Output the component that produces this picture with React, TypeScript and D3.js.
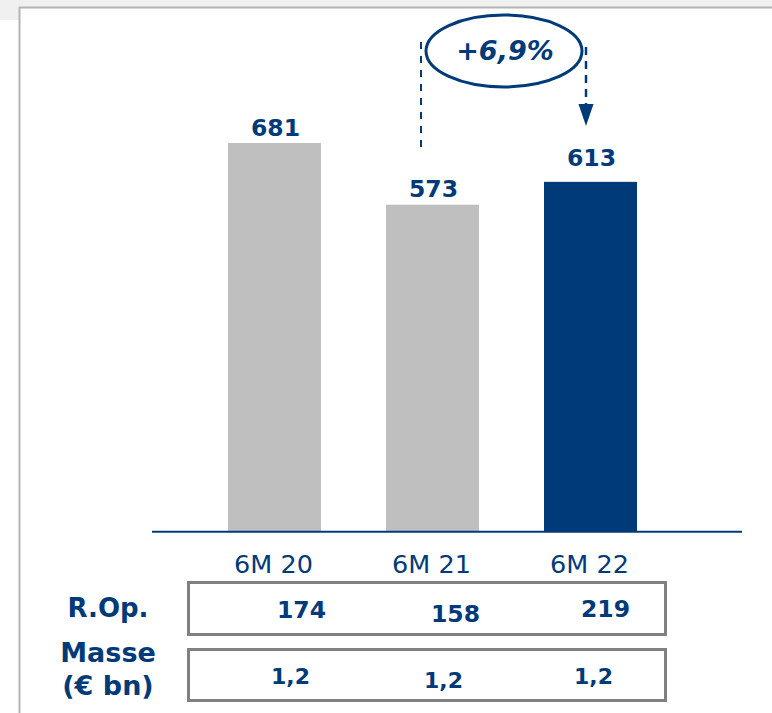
import React from "react";
import * as d3 from "d3";

const categories = ["6M 20", "6M 21", "6M 22"];
const values = [681, 573, 613];
const ropValues = ["174", "158", "219"];
const masseValues = ["1,2", "1,2", "1,2"];
const growthLabel = "+6,9%";
const rowLabels = ["R.Op.", "Masse", "(€ bn)"];

const W = 772;
const H = 713;
const NAVY = "#003a78";
const GREY_BAR = "#bfbfbf";
const FONT = "Verdana, 'DejaVu Sans', sans-serif";

export default function App() {
  const x = d3.scalePoint<string>().domain(categories).range([274.5, 590.5]);
  const y = d3.scaleLinear().domain([0, 681]).range([532, 143]);
  const barW = 93;
  const labelGap = [7, 8, 16];
  const ropDy = [618, 622, 617];
  const masseDy = [684, 688, 684];
  const ropDx = [27, 23, 15];
  const masseDx = [16, 11, 3];

  return (
    <svg
      width={W}
      height={H}
      style={{ position: "absolute", left: 0, top: 0, background: "#fff" }}
    >
      {/* frame */}
      <rect x={0} y={0} width={W} height={7} fill="#f0f0f0" />
      <rect x={0} y={0} width={19} height={20} fill="#f0f0f0" />
      <line x1={19} y1={7.5} x2={W} y2={7.5} stroke="#b4b4b4" strokeWidth={2} />
      <line x1={19.5} y1={7} x2={19.5} y2={H} stroke="#b4b4b4" strokeWidth={2} />

      {/* bars */}
      {values.map((v, i) => (
        <rect
          key={"b" + i}
          x={x(categories[i])! - barW / 2}
          y={y(v)}
          width={barW}
          height={y(0) - y(v)}
          fill={i === values.length - 1 ? NAVY : GREY_BAR}
        />
      ))}
      {/* axis */}
      <line x1={152} y1={531.7} x2={742} y2={531.7} stroke={NAVY} strokeWidth={2} />

      {/* value labels */}
      {values.map((v, i) => (
        <text
          key={"v" + i}
          x={x(categories[i])! + 1}
          y={y(v) - labelGap[i]}
          textAnchor="middle"
          fontFamily={FONT}
          fontWeight="bold"
          fontSize={23.5}
          fill={NAVY}
        >
          {v}
        </text>
      ))}

      {/* category labels */}
      {categories.map((c, i) => (
        <text
          key={"c" + i}
          x={x(c)! - 1}
          y={573}
          textAnchor="middle"
          fontFamily={FONT}
          fontSize={25.5}
          fill={NAVY}
        >
          {c}
        </text>
      ))}

      {/* table boxes */}
      <rect x={188.5} y={582.5} width={477} height={52} fill="none" stroke="#808080" strokeWidth={3} />
      <rect x={188.5} y={649.5} width={477} height={51} fill="none" stroke="#808080" strokeWidth={3} />

      {ropValues.map((t, i) => (
        <text
          key={"r" + i}
          x={x(categories[i])! + ropDx[i]}
          y={ropDy[i]}
          textAnchor="middle"
          fontFamily={FONT}
          fontWeight="bold"
          fontSize={23.5}
          fill={NAVY}
        >
          {t}
        </text>
      ))}
      {masseValues.map((t, i) => (
        <text
          key={"m" + i}
          x={x(categories[i])! + masseDx[i]}
          y={masseDy[i]}
          textAnchor="middle"
          fontFamily={FONT}
          fontWeight="bold"
          fontSize={22}
          fill={NAVY}
        >
          {t}
        </text>
      ))}

      {/* row labels */}
      <text x={108} y={617} textAnchor="middle" fontFamily={FONT} fontWeight="bold" fontSize={26} fill={NAVY}>
        {rowLabels[0]}
      </text>
      <text x={108} y={662} textAnchor="middle" fontFamily={FONT} fontWeight="bold" fontSize={27} fill={NAVY}>
        {rowLabels[1]}
      </text>
      <text x={108} y={695} textAnchor="middle" fontFamily={FONT} fontWeight="bold" fontSize={27} fill={NAVY}>
        {rowLabels[2]}
      </text>

      {/* growth annotation */}
      <line x1={421} y1={42} x2={421} y2={148} stroke={NAVY} strokeWidth={2} strokeDasharray="7 7" />
      <line x1={586} y1={47} x2={586} y2={104} stroke={NAVY} strokeWidth={2.5} strokeDasharray="8 6" />
      <path d="M578.5,104 L593.5,104 L586,126 Z" fill={NAVY} />
      <ellipse cx={504} cy={51} rx={78} ry={36} fill="#fff" stroke={NAVY} strokeWidth={3} />
      <text
        x={505}
        y={60}
        textAnchor="middle"
        fontFamily={FONT}
        fontWeight="bold"
        fontStyle="italic"
        fontSize={27}
        fill={NAVY}
      >
        {growthLabel}
      </text>
    </svg>
  );
}
